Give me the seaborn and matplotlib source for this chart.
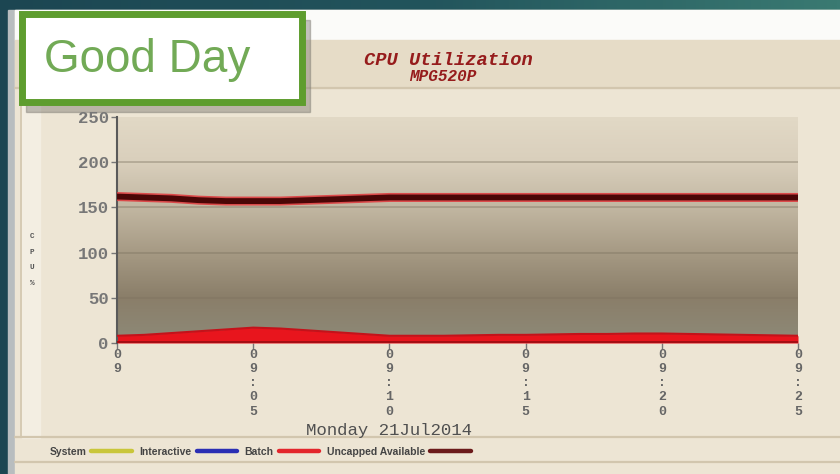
import numpy as np
import pandas as pd
import matplotlib.pyplot as plt
import seaborn as sns
from matplotlib.patches import Rectangle
from matplotlib.lines import Line2D
from matplotlib.colors import LinearSegmentedColormap

# values (minutes after 09:00)
minutes = [0, 1, 2, 3, 4, 5, 6, 7, 8, 9, 10, 11, 12, 13, 14, 15, 16, 17, 18, 19, 20, 21, 22, 23, 24, 25]
batch = [8, 9, 11, 13, 15, 17, 16, 14, 12, 10, 8, 8, 8, 8.5, 9, 9, 9.5, 10, 10, 10.5, 10.5, 10, 9.5, 9, 8.5, 8]
uncapped = [162, 161, 160, 158, 157, 157, 157, 158, 159, 160, 161, 161, 161, 161, 161, 161, 161, 161, 161, 161,
            161, 161, 161, 161, 161, 161]

tick_minutes = [0, 5, 10, 15, 20, 25]
tick_labels = ["0\n9", "0\n9\n:\n0\n5", "0\n9\n:\n1\n0", "0\n9\n:\n1\n5", "0\n9\n:\n2\n0", "0\n9\n:\n2\n5"]
y_ticks = [0, 50, 100, 150, 200, 250]

legend_names = ["System", "Interactive", "Batch", "Uncapped Available"]
legend_colors = ["#c9c63a", "#2b2fb4", "#e3262c", "#6b1a1a"]

df = pd.DataFrame({"minute": minutes, "batch": batch, "uncapped": uncapped})

sns.set_theme(style="white")
plt.rcParams["font.family"] = ["Liberation Sans", "DejaVu Sans"]
mono = ["Liberation Mono", "DejaVu Sans Mono"]

W, H = 840, 474
fig = plt.figure(figsize=(8.4, 4.74), dpi=100)

# background layer in pixel coordinates
bg = fig.add_axes([0, 0, 1, 1])
bg.set_xlim(0, W)
bg.set_ylim(H, 0)
bg.axis("off")
teal = LinearSegmentedColormap.from_list("teal", ["#1c4652", "#22545c", "#3a7a72"])
grad = np.linspace(0, 1, 256).reshape(1, -1)
bg.imshow(grad, cmap=teal, extent=[0, W, H, 0], aspect="auto", zorder=0)

# screenshot panel
bg.add_patch(Rectangle((8, 10), 7, H - 10, color="#b8bdbf", zorder=1))
bg.add_patch(Rectangle((15, 10), W - 15, H - 10, color="#ede5d4", zorder=1))
bg.add_patch(Rectangle((15, 10), W - 15, 30, color="#fbfbf9", zorder=1))
bg.add_patch(Rectangle((15, 40), W - 15, 48, color="#e6dcc7", zorder=1))
bg.add_patch(Rectangle((22, 88), 18, 350, color="#f3eee2", zorder=1))
for yy in [88, 437, 462]:
    bg.plot([15, W], [yy, yy], color="#d2c6ae", lw=1.6, zorder=2)
bg.plot([21, 21], [88, 437], color="#d2c6ae", lw=1.2, zorder=2)

# "Good Day" box with shadow
bg.add_patch(Rectangle((26, 20), 284, 92, color="#7d7a72", alpha=0.45, zorder=3))
bg.add_patch(Rectangle((22, 14), 280, 88, facecolor="white", edgecolor="#5e9d2e", lw=5, zorder=4))
bg.text(44, 60, "Good Day", fontsize=33, color="#72aa56", va="center", ha="left", zorder=5,
        family=["Liberation Sans", "DejaVu Sans"])

# chart title
bg.text(448, 60, "CPU Utilization", fontsize=13.5, color="#961c1c", ha="center", va="center",
        family=mono, style="italic", weight="bold", zorder=5)
bg.text(443, 76, "MPG520P", fontsize=11.5, color="#961c1c", ha="center", va="center",
        family=mono, style="italic", weight="bold", zorder=5)

# y label, stacked characters
bg.text(32, 260, "C\nP\nU\n%", fontsize=5.5, color="#555555", ha="center", va="center",
        linespacing=2.7, family=mono, weight="bold", zorder=5)

bg.text(389, 431, "Monday 21Jul2014", fontsize=12.5, color="#505050", ha="center", va="center",
        family=mono, zorder=5)

# main chart
ax = fig.add_axes([117 / W, 1 - 343 / H, 681 / W, 226 / H])
ax.set_facecolor("none")
shade = LinearSegmentedColormap.from_list(
    "shade", ["#8e8a78", "#8a7e69", "#a69a84", "#c2b7a2", "#d9cfbc", "#e2d9c6"])
vgrad = np.linspace(0, 1, 256).reshape(-1, 1)
ax.imshow(vgrad, cmap=shade, origin="lower", extent=[0, 25, 0, 250], aspect="auto", zorder=0)

for yv in y_ticks[1:-1]:
    ax.axhline(yv, color="#7d7260", lw=1.2, alpha=0.45, zorder=1)

ax.fill_between(df["minute"], 0, df["batch"], color="#e8151d", lw=0, zorder=2)
sns.lineplot(data=df, x="minute", y="batch", color="#c4121a", lw=1.5, ax=ax, zorder=3)
ax.fill_between(df["minute"], 0, 2, color="#a50e14", lw=0, zorder=3)
sns.lineplot(data=df, x="minute", y="uncapped", color="#e0363a", lw=6.5, alpha=0.85, ax=ax, zorder=4)
sns.lineplot(data=df, x="minute", y="uncapped", color="#4a0606", lw=4.2, ax=ax, zorder=5)

ax.set_xlim(0, 25)
ax.set_ylim(0, 250)
ax.set_xlabel("")
ax.set_ylabel("")
ax.set_xticks(tick_minutes)
ax.set_xticklabels(tick_labels, linespacing=1.25, fontsize=9.5, color="#666666",
                   family=mono, weight="bold", va="top")
ax.set_yticks(y_ticks)
ax.set_yticklabels([str(v) for v in y_ticks], fontsize=12.5, color="#777777",
                   family=mono, weight="bold")
ax.tick_params(axis="both", length=4, width=1, color="#777777", pad=2)
ax.tick_params(axis="x", bottom=True, pad=0)
ax.tick_params(axis="y", left=True)
for s in ["top", "right", "bottom"]:
    ax.spines[s].set_visible(False)
ax.spines["left"].set_color("#5a5a5a")
ax.spines["left"].set_linewidth(1.5)
ax.grid(False)

# legend strip
handles = [Line2D([0], [0], color=c, lw=3.2) for c in legend_colors]
fig.legend(handles, legend_names, ncol=4, loc="center left", bbox_to_anchor=(40 / W, 1 - 452 / H),
           markerfirst=False, frameon=False, handlelength=3.9, handletextpad=0.5, columnspacing=0.7,
           prop={"size": 7.5, "weight": "bold", "family": ["Liberation Sans", "DejaVu Sans"]},
           labelcolor="#444444")

fig.savefig("out.png", dpi=100)
